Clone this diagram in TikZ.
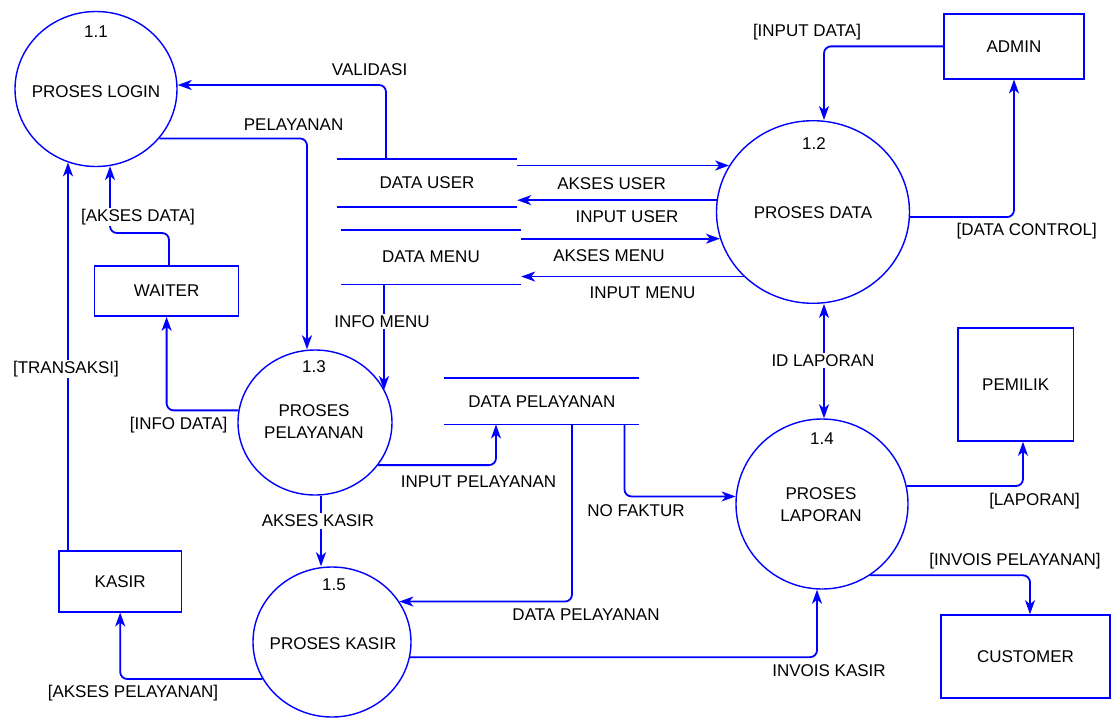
\documentclass[tikz,border=0pt]{standalone}
\usepackage{fontspec}
\setmainfont{Liberation Sans}
\usetikzlibrary{shapes.geometric,arrows.meta}
\begin{document}
\begin{tikzpicture}[x=1pt,y=-1pt,
  >={Stealth[length=14pt,width=10pt,inset=4pt]},
  every node/.style={font=\fontsize{17}{22}\selectfont, text=black},
  proc/.style={draw=blue, ellipse, line width=1.4pt, inner sep=0pt},
  ent/.style={draw=blue, rectangle, line width=1.6pt, inner sep=0pt},
  store/.style={rectangle, inner sep=0pt},
  stline/.style={draw=blue, line width=1.8pt},
  flow/.style={draw=blue, line width=1.8pt, rounded corners=7pt, ->},
  lbl/.style={inner sep=1pt},
  lblw/.style={inner sep=1.5pt, fill=white}]
\path[use as bounding box] (0,0) rectangle (1112,718);

% external entities
\node[ent, minimum width=140pt, minimum height=64.7pt] (admin) at (1014,46.35) {ADMIN};
\node[ent, minimum width=115.5pt, minimum height=113pt] (pemilik) at (1015.7,384.5) {PEMILIK};
\node[ent, minimum width=169pt, minimum height=83pt] (customer) at (1025.5,656.5) {CUSTOMER};
\node[ent, minimum width=144pt, minimum height=50.3pt] (waiter) at (166.6,290.9) {WAITER};
\node[ent, minimum width=122.4pt, minimum height=61pt] (kasir) at (120.2,581.2) {KASIR};

% processes
\node[proc, minimum width=162pt, minimum height=155pt] (p11) at (96,89) {};
\node[proc, minimum width=193pt, minimum height=182.6pt] (p12) at (813,212) {};
\node[proc, minimum width=154pt, minimum height=145pt] (p13) at (315,422.5) {};
\node[proc, minimum width=172pt, minimum height=170pt] (p14) at (822,504) {};
\node[proc, minimum width=158pt, minimum height=150pt] (p15) at (332,642) {};

\node[lbl] (n11) at (96,32) {1.1};
\node[lbl] (t11) at (96,92) {PROSES LOGIN};
\node[lbl] (n12) at (814,144) {1.2};
\node[lbl] (t12) at (813,213) {PROSES DATA};
\node[lbl] (n13) at (314,367) {1.3};
\node[lbl, align=center] (t13) at (314,422) {PROSES\\PELAYANAN};
\node[lbl] (n14) at (822,439) {1.4};
\node[lbl, align=center] (t14) at (821,505) {PROSES\\LAPORAN};
\node[lbl] (n15) at (334,585) {1.5};
\node[lbl] (t15) at (333,644) {PROSES KASIR};

% data stores
\node[store, minimum width=180pt, minimum height=47.4pt] (du) at (427,183) {DATA USER};
\draw[stline] (du.north west) -- (du.north east) (du.south west) -- (du.south east);
\node[store, minimum width=180pt, minimum height=54.3pt] (dm) at (431,257.2) {DATA MENU};
\draw[stline] (dm.north west) -- (dm.north east) (dm.south west) -- (dm.south east);
\node[store, minimum width=194.4pt, minimum height=46pt] (dp) at (541.8,401.3) {DATA PELAYANAN};
\draw[stline] (dp.north west) -- (dp.north east) (dp.south west) -- (dp.south east);

% flows
\draw[flow] (386,0 |- du.north) |- (p11.east |- 0,85);
\draw[flow] (p11.-38) -| (307,0 |- p13.north);
\draw[flow] (169,0 |- waiter.north) -- (169,233) -| (110,0 |- p11.-80);
\draw[flow] (68,0 |- kasir.north) -- (68,0 |- p11.-111);
\draw[flow] (p13.171) -| (waiter.south);
\draw[flow] (384,0 |- dm.south) -- (384,0 |- p13.25);
\draw[flow] (p13.-34) -| (496,0 |- dp.south);
\draw[flow] (321,0 |- p13.south) -- (321,0 |- p15.north);
\draw[flow] (572,0 |- dp.south) |- (p15.31);
\draw[flow] (624.5,0 |- dp.south) |- (p14.175);
\draw[flow] (p15.-11) -| (817,0 |- p14.south);
\draw[flow] (p15.-152) -| (kasir.south);
\draw[flow, <->] (824,0 |- p12.south) -- (824,0 |- p14.north);
\draw[flow] (admin.west) -| (824,0 |- p12.north);
\draw[flow] (p12.-3) -| (admin.south);
\draw[flow] (p14.12) -| (1023,0 |- pemilik.south);
\draw[flow] (p14.-56) -| (1030,0 |- customer.north);
\draw[flow] (du.east |- p12.151) -- (p12.151);
\draw[flow] (p12.173) -- (du.east |- p12.173);
\draw[flow] (dm.east |- p12.196) -- (p12.196);
\draw[flow] (p12.223) -- (dm.east |- p12.223);

% flow labels
\node[lbl] (lvalidasi) at (369.6,70) {VALIDASI};
\node[lbl] (lpelayanan) at (293.6,124.3) {PELAYANAN};
\node[lblw] (laksesdata) at (138,217) {[AKSES DATA]};
\node[lblw] (ltransaksi) at (66,369) {[TRANSAKSI]};
\node[lbl] (linfodata) at (178.6,425) {[INFO DATA]};
\node[lblw] (linfomenu) at (382,321.7) {INFO MENU};
\node[lbl] (linputpel) at (478.6,481.7) {INPUT PELAYANAN};
\node[lblw] (lakseskasir) at (318,521) {AKSES KASIR};
\node[lbl] (ldatapel) at (586,615) {DATA PELAYANAN};
\node[lbl] (lnofaktur) at (636,510.7) {NO FAKTUR};
\node[lbl] (linvoiskasir) at (829,671) {INVOIS KASIR};
\node[lbl] (laksespel) at (133,692.7) {[AKSES PELAYANAN]};
\node[lblw] (lidlaporan) at (823,360.7) {ID LAPORAN};
\node[lbl] (linputdata) at (807,31.7) {[INPUT DATA]};
\node[lbl] (ldatacontrol) at (1026.7,230.7) {[DATA CONTROL]};
\node[lbl] (llaporan) at (1034.6,501) {[LAPORAN]};
\node[lbl] (linvoispel) at (1015,561) {[INVOIS PELAYANAN]};
\node[lbl] (laksesuser) at (611.6,183.3) {AKSES USER};
\node[lbl] (linputuser) at (627,216.7) {INPUT USER};
\node[lbl] (laksesmenu) at (609,255.7) {AKSES MENU};
\node[lbl] (linputmenu) at (642.5,292.7) {INPUT MENU};
\end{tikzpicture}
\end{document}
